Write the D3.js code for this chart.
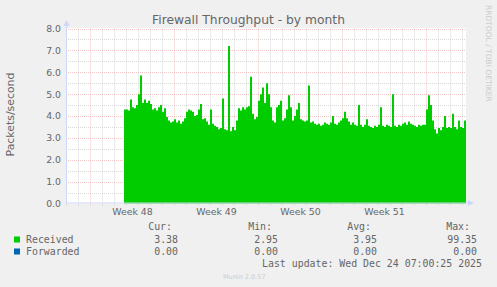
<!DOCTYPE html>
<html>
<head>
<meta charset="utf-8">
<script src="https://cdn.jsdelivr.net/npm/d3@7"></script>
<style>
  html, body { margin: 0; padding: 0; background: #f0f0f0; }
  svg { display: block; font-family: "DejaVu Sans", sans-serif; }
  .mono { font-family: "DejaVu Sans Mono", monospace; }
</style>
</head>
<body>
<div id="chart"></div>
<script>
// received packets/second, one value per 4 hours starting Tue Nov 25 20:00 UTC
const seriesStart = Date.UTC(2025, 10, 25, 20);
const stepHours = 4;
const received = [
  4.3, 4.3, 4.25, 4.75, 4.4, 4.35, 4.5, 5.0, 5.85, 4.6,
  4.75, 4.6, 4.7, 4.55, 4.3, 4.35, 4.25, 4.4, 4.5, 4.2,
  4.35, 3.95, 3.8, 3.7, 3.75, 3.85, 3.7, 3.8, 3.65, 3.75,
  3.9, 4.2, 4.3, 4.25, 4.2, 4.0, 4.05, 4.3, 4.55, 3.85,
  3.9, 3.75, 3.6, 4.3, 3.65, 3.55, 3.5, 3.4, 3.45, 4.8,
  3.4, 3.35, 7.2, 3.3, 3.5, 3.35, 3.8, 4.35, 4.25, 4.4,
  4.3, 4.4, 4.45, 5.8, 4.1, 3.85, 3.95, 4.7, 5.0, 5.3,
  4.6, 5.5, 5.0, 4.4, 3.8, 3.7, 4.4, 4.5, 4.7, 3.8,
  3.9, 4.3, 4.95, 4.4, 3.8, 4.0, 4.3, 4.6, 3.85, 3.8,
  3.75, 3.8, 5.4, 3.7, 3.75, 3.65, 3.6, 3.65, 3.55, 3.6,
  3.7, 3.65, 3.6, 3.7, 4.0, 3.65, 3.6, 3.7, 3.8, 3.9,
  4.2, 3.9, 3.75, 3.6, 3.7, 3.6, 3.55, 4.5, 3.6, 3.5,
  3.6, 3.85, 3.55, 3.5, 3.45, 3.55, 3.5, 3.6, 4.4, 3.55,
  3.5, 3.6, 3.55, 3.5, 5.0, 3.55, 3.5, 3.6, 3.55, 3.65,
  3.7, 3.6, 3.75, 3.65, 3.6, 3.55, 3.5, 3.6, 3.55, 3.6,
  3.6, 4.3, 4.95, 4.5, 3.8, 3.4, 3.2, 3.45, 3.35, 3.5,
  4.0, 3.45, 3.5, 3.45, 4.1, 3.5, 3.4, 3.8, 3.5, 3.45,
  3.8, 3.4
];

const yTicks = [0, 1, 2, 3, 4, 5, 6, 7, 8];
const legendNames = ["Received", "Forwarded"];
const legendColors = ["#00cc00", "#0066b3"];
const statHeaders = ["Cur:", "Min:", "Avg:", "Max:"];
const statValues = [
  ["3.38", "2.95", "3.95", "99.35"],
  ["0.00", "0.00", "0.00", "0.00"]
];
const lastUpdate = "Last update: Wed Dec 24 07:00:25 2025";

const width = 497;
const height = 287;
const plotLeft = 66, plotRight = 466, plotTop = 28.5, plotBottom = 203.5;

const svg = d3.select("#chart").append("svg")
  .attr("width", width)
  .attr("height", height);

svg.append("rect").attr("width", width).attr("height", height).attr("fill", "#f0f0f0");

const x = d3.scaleUtc()
  .domain([Date.UTC(2025, 10, 21, 0), Date.UTC(2025, 11, 24, 8)])
  .range([plotLeft, plotRight]);
const y = d3.scaleLinear().domain([0, 8]).range([plotBottom, plotTop]);

svg.append("rect")
  .attr("x", plotLeft).attr("y", plotTop - 0.5)
  .attr("width", plotRight - plotLeft).attr("height", plotBottom - plotTop + 0.5)
  .attr("fill", "#fff");

// dotted grid
const grid = svg.append("g").attr("fill", "none").attr("stroke-dasharray", "1,1");
const [d0, d1] = x.domain();
const days = d3.utcDay.range(d0, d1);
const weeks = d3.utcSunday.range(d0, d1);
const px = d => Math.round(x(d)) + 0.5;
const py = v => Math.round(y(v)) + 0.5;
const minorColor = "rgba(180,180,180,0.5)";
const majorColor = "rgba(230,128,128,0.45)";

grid.selectAll(".vminor").data(days.filter(d => d.getUTCDay() !== 0)).join("line")
  .attr("x1", px).attr("x2", px).attr("y1", plotTop).attr("y2", plotBottom + 2)
  .attr("stroke", minorColor);
grid.selectAll(".hminor").data(d3.range(0.5, 8, 1)).join("line")
  .attr("x1", plotLeft).attr("x2", plotRight).attr("y1", py).attr("y2", py)
  .attr("stroke", minorColor);
grid.selectAll(".vmajor").data(weeks).join("line")
  .attr("x1", px).attr("x2", px).attr("y1", plotTop).attr("y2", plotBottom + 2)
  .attr("stroke", majorColor);
grid.selectAll(".hmajor").data(yTicks.slice(1)).join("line")
  .attr("x1", plotLeft).attr("x2", plotRight).attr("y1", py).attr("y2", py)
  .attr("stroke", majorColor);

const data = received.map((v, i) => ({
  t: new Date(seriesStart + i * stepHours * 3600e3),
  v
}));

const area = d3.area()
  .curve(d3.curveStepAfter)
  .x(d => x(d.t))
  .y0(y(0))
  .y1(d => y(d.v));

svg.append("path")
  .datum(data)
  .attr("fill", "#00cc00")
  .attr("d", area);

// axes lines and arrows
const axisColor = "#cfd6f8";
svg.append("line").attr("x1", plotLeft + 0.5).attr("x2", plotLeft + 0.5)
  .attr("y1", plotBottom).attr("y2", 24).attr("stroke", axisColor);
svg.append("line").attr("x1", plotLeft).attr("x2", 470)
  .attr("y1", plotBottom - 0.5).attr("y2", plotBottom - 0.5).attr("stroke", axisColor);
svg.append("path").attr("fill", axisColor)
  .attr("d", `M${plotLeft - 2.5},26 L${plotLeft + 0.5},20 L${plotLeft + 3.5},26 Z`);
svg.append("path").attr("fill", axisColor)
  .attr("d", `M468,${plotBottom - 3.5} L474,${plotBottom - 0.5} L468,${plotBottom + 2.5} Z`);

// y axis labels
const yAxis = d3.axisLeft(y).tickValues(yTicks).tickFormat(d3.format(".1f"))
  .tickSize(0).tickPadding(5);
svg.append("g")
  .attr("transform", `translate(${plotLeft},0)`)
  .call(yAxis)
  .call(g => g.select(".domain").remove())
  .call(g => g.selectAll("text")
    .attr("fill", "#666").attr("font-size", "9.3px")
    .attr("font-family", "DejaVu Sans"));

// week labels, centered on each week
const weekMids = weeks.map(w => new Date(+w + 3.5 * 864e5))
  .filter(m => x(m) > plotLeft && x(m) < plotRight);
const xAxis = d3.axisBottom(x).tickValues(weekMids)
  .tickFormat(d => "Week " + d3.utcFormat("%V")(d))
  .tickSize(0).tickPadding(5);
svg.append("g")
  .attr("transform", `translate(0,${plotBottom})`)
  .call(xAxis)
  .call(g => g.select(".domain").remove())
  .call(g => g.selectAll("text")
    .attr("fill", "#666").attr("font-size", "9.4px")
    .attr("font-family", "DejaVu Sans"));

// title and labels
svg.append("text")
  .attr("x", 248.5).attr("y", 23.5)
  .attr("text-anchor", "middle")
  .attr("fill", "#666").attr("font-size", "12.3px")
  .text("Firewall Throughput - by month");

svg.append("text")
  .attr("transform", "translate(14,114.5) rotate(-90)")
  .attr("text-anchor", "middle")
  .attr("fill", "#666").attr("font-size", "10.9px")
  .text("Packets/second");

svg.append("text")
  .attr("transform", "translate(485.5,5) rotate(90)")
  .attr("fill", "#ccc").attr("font-size", "7.5px")
  .text("RRDTOOL / TOBI OETIKER");

// legend
const legend = svg.append("g").attr("class", "mono")
  .attr("font-size", "9.9px").attr("fill", "#666");
const headerX = [172, 272, 371, 470];
const valueX = [178, 278, 377, 477];

legend.selectAll(".hdr").data(statHeaders).join("text")
  .attr("x", (d, i) => headerX[i]).attr("y", 230)
  .attr("text-anchor", "end")
  .text(d => d);

legendNames.forEach((name, r) => {
  const yy = 243 + r * 12;
  legend.append("rect")
    .attr("x", 14).attr("y", yy - 6.5).attr("width", 6).attr("height", 6)
    .attr("fill", legendColors[r]);
  legend.append("text").attr("x", 26).attr("y", yy).text(name);
  legend.selectAll(".v" + r).data(statValues[r]).join("text")
    .attr("x", (d, i) => valueX[i]).attr("y", yy)
    .attr("text-anchor", "end")
    .text(d => d);
});

legend.append("text")
  .attr("x", 482).attr("y", 267)
  .attr("text-anchor", "end")
  .text(lastUpdate);

svg.append("text")
  .attr("x", 223).attr("y", 279)
  .attr("fill", "#ccc").attr("font-size", "6.5px")
  .text("Munin 2.0.57");
</script>
</body>
</html>
